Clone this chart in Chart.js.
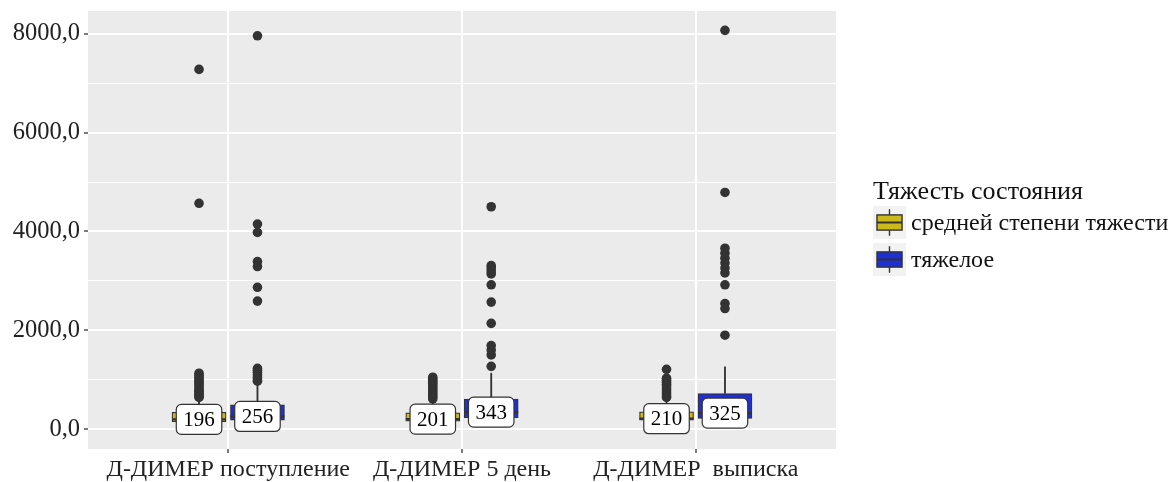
<!DOCTYPE html>
<html lang="ru">

<head>
    <meta charset="UTF-8">
    <title>Д-ДИМЕР</title>
    <script src="https://cdn.jsdelivr.net/npm/chart.js"></script>
    <style>
        body { margin: 0; background: #fff; }
    </style>
</head>

<body>
    <canvas id="boxChart" width="1171" height="482"></canvas>

    <script>
        const categories = ['Д-ДИМЕР поступление', 'Д-ДИМЕР 5 день', 'Д-ДИМЕР  выписка'];
        const groups = ['средней степени тяжести', 'тяжелое'];
        const legendTitle = 'Тяжесть состояния';
        const yTicks = [0, 2000, 4000, 6000, 8000];

        // [нижний ус, Q1, медиана, Q3, верхний ус] для каждой категории
        const moderateStats = [
            [30, 150, 196, 340, 615],
            [35, 160, 201, 330, 580],
            [40, 180, 210, 350, 600]
        ];
        const severeStats = [
            [40, 180, 256, 490, 930],
            [50, 230, 343, 607, 1130],
            [45, 215, 325, 720, 1260]
        ];

        const moderateOutliers = [
            [7280, 4570, 1130, 1090, 1050, 1010, 970, 930, 890, 850, 810, 780, 750, 720, 690, 660, 640],
            [1050, 1010, 970, 930, 890, 850, 810, 770, 730, 690, 650, 610],
            [1210, 1030, 990, 950, 910, 870, 830, 790, 750, 710, 670, 640]
        ];
        const severeOutliers = [
            [7960, 4150, 3980, 3390, 3290, 2870, 2590, 1230, 1190, 1150, 1100, 1050, 1000, 970],
            [4500, 3310, 3260, 3200, 3140, 2920, 2570, 2140, 1690, 1600, 1500, 1270],
            [8070, 4790, 3660, 3560, 3460, 3360, 3260, 3160, 2920, 2540, 2440, 1900]
        ];

        const groupColors = ['#CCB91E', '#1F2FD6'];
        const dodge = [-0.125, 0.125];
        const boxWidth = 54;
        const serif = '"Liberation Serif", "Times New Roman", serif';
        const axisFont = { family: serif, size: 24 };
        const textColor = '#222222';

        const allStats = [moderateStats, severeStats];
        const allOutliers = [moderateOutliers, severeOutliers];

        const datasets = [];
        allStats.forEach((stats, g) => {
            datasets.push({
                type: 'bar',
                label: groups[g] + ' whiskers',
                data: stats.flatMap((s, i) => [
                    { x: i + 1 + dodge[g], y: [s[3], s[4]] },
                    { x: i + 1 + dodge[g], y: [s[0], s[1]] }
                ]),
                backgroundColor: '#333333',
                barThickness: 1.2,
                grouped: false,
                order: 3
            });
            datasets.push({
                type: 'bar',
                label: groups[g],
                data: stats.map((s, i) => ({ x: i + 1 + dodge[g], y: [s[1], s[3]] })),
                backgroundColor: groupColors[g],
                borderColor: '#333333',
                borderWidth: 1.2,
                borderSkipped: false,
                barThickness: boxWidth,
                grouped: false,
                order: 2
            });
            datasets.push({
                type: 'scatter',
                label: groups[g] + ' outliers',
                data: allOutliers[g].flatMap((vals, i) => vals.map(v => ({ x: i + 1 + dodge[g], y: v }))),
                backgroundColor: '#333333',
                borderWidth: 0,
                pointRadius: 4.8,
                order: 4
            });
        });

        const panelBackground = {
            id: 'panelBackground',
            beforeDraw(chart) {
                const { ctx, chartArea: a } = chart;
                ctx.save();
                ctx.fillStyle = '#EBEBEB';
                ctx.fillRect(a.left, a.top, a.right - a.left, a.bottom - a.top);
                ctx.restore();
            }
        };

        function roundRect(ctx, x, y, w, h, r) {
            ctx.beginPath();
            ctx.moveTo(x + r, y);
            ctx.arcTo(x + w, y, x + w, y + h, r);
            ctx.arcTo(x + w, y + h, x, y + h, r);
            ctx.arcTo(x, y + h, x, y, r);
            ctx.arcTo(x, y, x + w, y, r);
            ctx.closePath();
        }

        // медиана и подпись с её значением
        const medianLabels = {
            id: 'medianLabels',
            afterDatasetsDraw(chart) {
                const { ctx } = chart;
                const xs = chart.scales.x, ys = chart.scales.y;
                ctx.save();
                allStats.forEach((stats, g) => {
                    stats.forEach((s, i) => {
                        const px = xs.getPixelForValue(i + 1 + dodge[g]);
                        const py = ys.getPixelForValue(s[2]);
                        ctx.strokeStyle = '#333333';
                        ctx.lineWidth = 2.2;
                        ctx.beginPath();
                        ctx.moveTo(px - boxWidth / 2, py);
                        ctx.lineTo(px + boxWidth / 2, py);
                        ctx.stroke();

                        ctx.font = '21px ' + serif;
                        const text = String(s[2]);
                        const w = ctx.measureText(text).width + 14;
                        const h = 30;
                        roundRect(ctx, px - w / 2, py - h / 2, w, h, 5);
                        ctx.fillStyle = '#ffffff';
                        ctx.fill();
                        ctx.lineWidth = 1.2;
                        ctx.strokeStyle = '#333333';
                        ctx.stroke();
                        ctx.fillStyle = '#000000';
                        ctx.textAlign = 'center';
                        ctx.textBaseline = 'middle';
                        ctx.fillText(text, px, py + 1);
                    });
                });
                ctx.restore();
            }
        };

        function drawKey(ctx, x, y, size, color) {
            ctx.fillStyle = '#F2F2F2';
            ctx.fillRect(x, y, size, size);
            const cx = x + size / 2;
            ctx.strokeStyle = '#333333';
            ctx.lineWidth = 1.4;
            ctx.beginPath();
            ctx.moveTo(cx, y + size * 0.1);
            ctx.lineTo(cx, y + size * 0.27);
            ctx.moveTo(cx, y + size * 0.73);
            ctx.lineTo(cx, y + size * 0.9);
            ctx.stroke();
            ctx.fillStyle = color;
            ctx.fillRect(x + size * 0.12, y + size * 0.27, size * 0.76, size * 0.46);
            ctx.strokeRect(x + size * 0.12, y + size * 0.27, size * 0.76, size * 0.46);
            ctx.lineWidth = 2;
            ctx.beginPath();
            ctx.moveTo(x + size * 0.12, y + size / 2);
            ctx.lineTo(x + size * 0.88, y + size / 2);
            ctx.stroke();
        }

        const boxLegend = {
            id: 'boxLegend',
            afterDraw(chart) {
                const { ctx } = chart;
                const left = 873, keySize = 33, step = 37, firstTop = 206;
                ctx.save();
                ctx.textAlign = 'left';
                ctx.textBaseline = 'middle';
                ctx.fillStyle = '#111111';
                ctx.font = '26px ' + serif;
                ctx.fillText(legendTitle, left, 192);
                ctx.font = '24px ' + serif;
                groups.forEach((name, g) => {
                    const top = firstTop + g * step;
                    drawKey(ctx, left, top, keySize, groupColors[g]);
                    ctx.fillStyle = '#111111';
                    ctx.fillText(name, left + keySize + 5, top + keySize / 2 + 1);
                });
                ctx.restore();
            }
        };

        new Chart(document.getElementById('boxChart'), {
            type: 'bar',
            data: { datasets: datasets },
            options: {
                responsive: false,
                animation: false,
                events: [],
                layout: { padding: { left: 0, top: 11, right: 335, bottom: 0 } },
                plugins: {
                    legend: { display: false },
                    tooltip: { enabled: false }
                },
                scales: {
                    x: {
                        type: 'linear',
                        min: 0.4,
                        max: 3.6,
                        offset: false,
                        afterBuildTicks: s => { s.ticks = categories.map((c, i) => ({ value: i + 1 })); },
                        afterFit: s => { s.height = 33; s.paddingLeft = 0; s.paddingRight = 0; },
                        ticks: {
                            callback: v => categories[Math.round(v) - 1],
                            font: axisFont,
                            color: textColor,
                            padding: 2,
                            maxRotation: 0,
                            autoSkip: false
                        },
                        grid: { offset: false, color: '#ffffff', lineWidth: 2, tickColor: '#333333', tickWidth: 1.3, tickLength: 4 },
                        border: { display: false }
                    },
                    y: {
                        type: 'linear',
                        min: -403,
                        max: 8462,
                        afterBuildTicks: s => {
                            s.ticks = [];
                            yTicks.forEach((v, i) => {
                                s.ticks.push({ value: v });
                                if (i < yTicks.length - 1) s.ticks.push({ value: (v + yTicks[i + 1]) / 2 });
                            });
                        },
                        afterFit: s => { s.width = 88; s.paddingTop = 0; s.paddingBottom = 0; },
                        ticks: {
                            callback: v => yTicks.includes(v) ? v.toFixed(1).replace('.', ',') : '',
                            font: { family: serif, size: 24.5 },
                            color: textColor,
                            padding: 4,
                            autoSkip: false
                        },
                        grid: {
                            color: '#ffffff',
                            lineWidth: c => yTicks.includes(c.tick.value) ? 2 : 1,
                            tickColor: c => yTicks.includes(c.tick.value) ? '#333333' : 'rgba(0,0,0,0)',
                            tickWidth: 1.3,
                            tickLength: 4
                        },
                        border: { display: false }
                    }
                }
            },
            plugins: [panelBackground, medianLabels, boxLegend]
        });
    </script>
</body>

</html>
